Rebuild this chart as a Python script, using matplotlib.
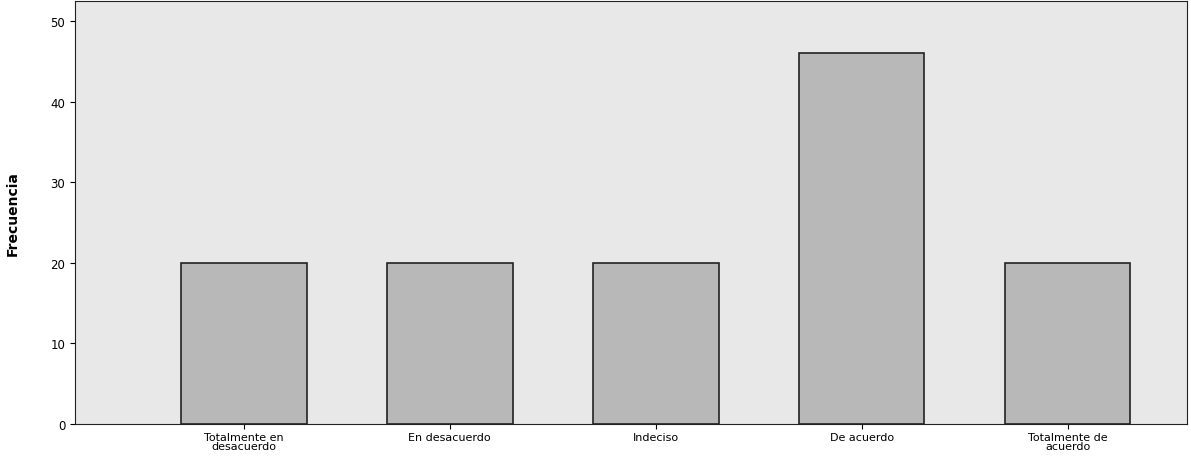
import matplotlib
matplotlib.use("Agg")
import matplotlib.pyplot as plt

categories = ["Totalmente en\ndesacuerdo", "En desacuerdo", "Indeciso", "De acuerdo", "Totalmente de\nacuerdo"]
values = [20, 20, 20, 46, 20]

fig = plt.figure(figsize=(11.91, 4.60), dpi=100)
ax = fig.add_axes([75/1191, 1-425/460, (1187-75)/1191, (425-2)/460])
ax.set_facecolor("#e8e8e8")
x = list(range(len(categories)))
ax.bar(x, values, width=0.61, color="#b8b8b8", edgecolor="#222222", linewidth=1.2)
ax.set_xlim(-0.82, 4.58)
ax.set_ylim(0, 52.5)
ax.set_yticks([0, 10, 20, 30, 40, 50])
ax.set_xticks(x)
ax.set_xticklabels(categories, fontsize=8, linespacing=0.9)
ax.tick_params(axis="y", labelsize=8.5)
ax.tick_params(axis="x", pad=2)
ax.set_ylabel("Frecuencia", fontsize=10, fontweight="bold", labelpad=22)
for s in ax.spines.values():
    s.set_color("#222222")
fig.savefig("out.png", dpi=100)
